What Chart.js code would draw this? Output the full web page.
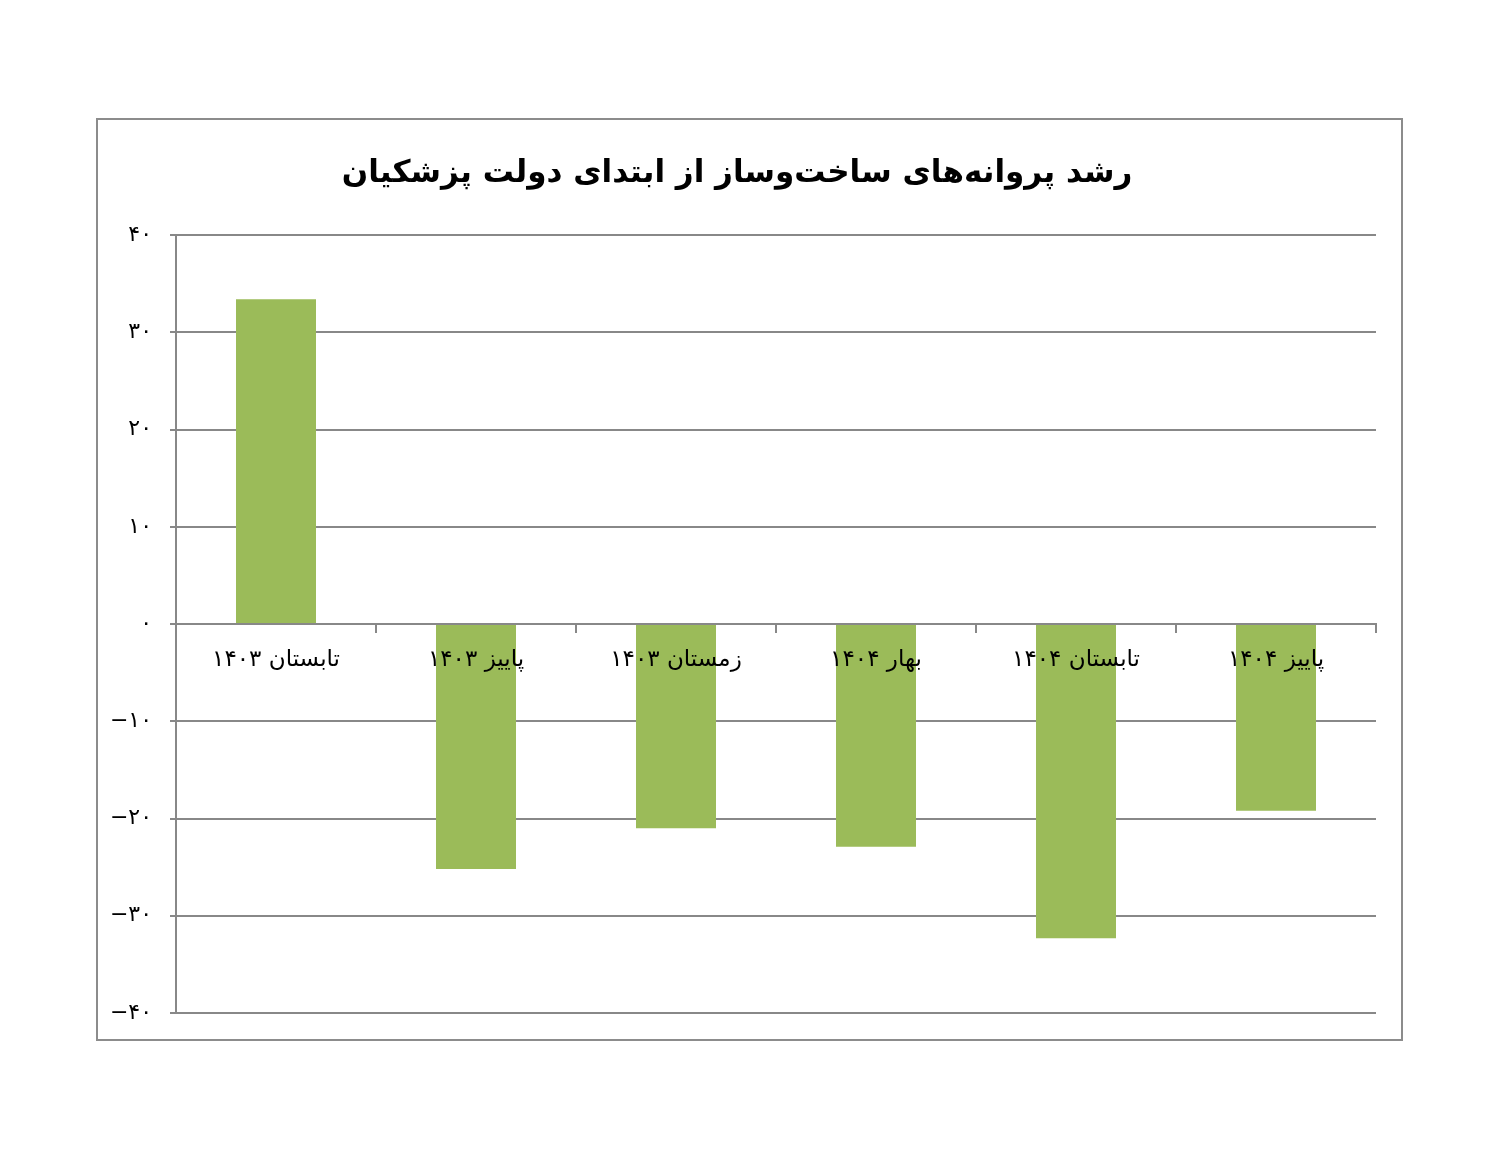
<!DOCTYPE html>
<html lang="fa">
<head>
<meta charset="UTF-8">
<title>رشد پروانه‌های ساخت‌وساز</title>
<style>
  body { margin: 0; background: #fff; }
  #frame {
    position: absolute; left: 96px; top: 118px;
    width: 1303px; height: 919px;
    border: 2px solid #8c8c8c;
  }
</style>
</head>
<body>
<div id="frame">
  <canvas id="myChart" width="1303" height="919"></canvas>
</div>
<script src="https://cdn.jsdelivr.net/npm/chart.js"></script>
<script>
  const chartTitle = 'رشد پروانه‌های ساخت‌وساز از ابتدای دولت پزشکیان';
  const labels = ['تابستان ۱۴۰۳', 'پاییز ۱۴۰۳', 'زمستان ۱۴۰۳', 'بهار ۱۴۰۴', 'تابستان ۱۴۰۴', 'پاییز ۱۴۰۴'];
  const growth = [33.4, -25.2, -21.0, -22.9, -32.3, -19.2];
  const yTickValues = [-40, -30, -20, -10, 0, 10, 20, 30, 40];
  const yTickLabels = ['−۴۰', '−۳۰', '−۲۰', '−۱۰', '۰', '۱۰', '۲۰', '۳۰', '۴۰'];

  const gridColor = '#888888';
  const ctx = document.getElementById('myChart');

  new Chart(ctx, {
    type: 'bar',
    data: {
      labels: labels,
      datasets: [{
        data: growth,
        backgroundColor: '#9bbb59',
        borderWidth: 0,
        categoryPercentage: 1,
        barPercentage: 0.4
      }]
    },
    options: {
      responsive: false,
      animation: false,
      layout: { padding: { left: 0, right: 25, bottom: 26, top: 0 } },
      scales: {
        x: {
          position: { y: 0 },
          grid: { drawOnChartArea: false, offset: true, tickLength: 8, color: gridColor, lineWidth: 2 },
          border: { color: gridColor, width: 2 },
          ticks: {
            z: 1,
            autoSkip: false,
            color: '#000',
            padding: 14,
            maxRotation: 0,
            font: { family: 'DejaVu Sans', size: 23 }
          }
        },
        y: {
          min: -40,
          max: 40,
          afterFit: (scale) => {
            scale.width = 78;
            scale.paddingTop = 0;
            scale.paddingBottom = 0;
          },
          afterBuildTicks: (scale) => { scale.ticks = yTickValues.map(v => ({ value: v })); },
          grid: { color: gridColor, lineWidth: 2, tickLength: 6 },
          border: { color: gridColor, width: 2 },
          ticks: {
            color: '#000',
            padding: 18,
            font: { family: 'DejaVu Sans', size: 22 },
            callback: (value) => yTickLabels[yTickValues.indexOf(value)]
          }
        }
      },
      plugins: {
        legend: { display: false },
        tooltip: { enabled: false },
        title: {
          display: true,
          text: chartTitle,
          color: '#000',
          font: { family: 'DejaVu Sans', size: 31, weight: 'bold' },
          padding: { top: 35, bottom: 43 }
        }
      }
    }
  });
</script>
</body>
</html>
